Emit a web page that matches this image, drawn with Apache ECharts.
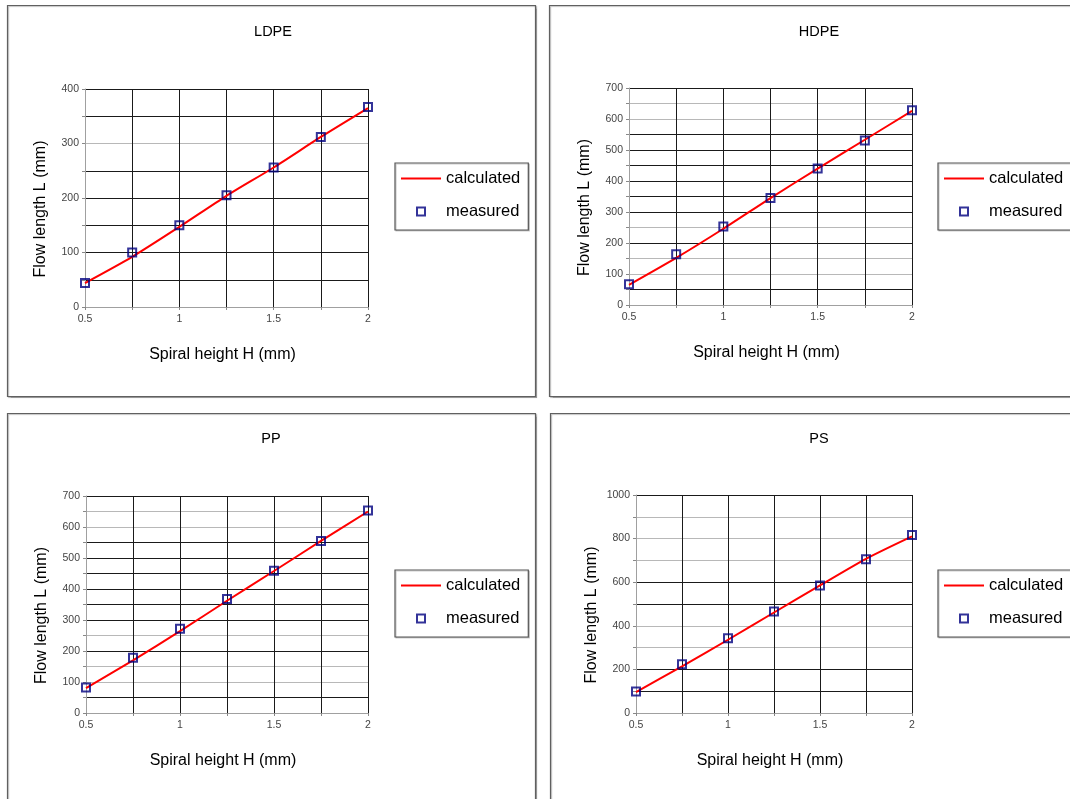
<!DOCTYPE html>
<html>
<head>
<meta charset="utf-8">
<script src="https://cdn.jsdelivr.net/npm/echarts@6/dist/echarts.min.js"></script>
<style>
html,body{margin:0;padding:0;background:#fff;}
#chart{width:1070px;height:799px;}
</style>
</head>
<body>
<div id="chart"></div>
<script>
// ---- data ----
var panelTitles = ['LDPE', 'HDPE', 'PP', 'PS'];
var spiralHeight = [0.5, 0.75, 1, 1.25, 1.5, 1.75, 2];
var ldpeCalculated = [44, 92, 147, 204, 256, 312, 365];
var ldpeMeasured   = [44, 100, 150, 205, 256, 312, 367];
var hdpeCalculated = [65, 152, 246, 345, 440, 533, 626];
var hdpeMeasured   = [67, 164, 253, 345, 440, 531, 628];
var ppCalculated   = [80, 170, 264, 362, 458, 555, 650];
var ppMeasured     = [82, 178, 272, 368, 459, 555, 653];
var psCalculated   = [96, 214, 336, 461, 585, 707, 810];
var psMeasured     = [99, 224, 343, 466, 585, 705, 817];
var yMax = [400, 700, 700, 1000];
var yStep = [50, 50, 50, 100];
var yLabelStep = [100, 100, 100, 200];
var xTickLabels = [0.5, 1, 1.5, 2];
var seriesNames = ['calculated', 'measured'];
var xAxisTitle = 'Spiral height H (mm)';
var yAxisTitle = 'Flow length L (mm)';

var calcSets = [ldpeCalculated, hdpeCalculated, ppCalculated, psCalculated];
var measSets = [ldpeMeasured, hdpeMeasured, ppMeasured, psMeasured];

// ---- layout / style ----
var D = '#1a1a1a', G = '#b8b8b8';
var gridColors = [
  [G, D, D, D, D, D, G, D, D],
  [G, D, G, G, D, G, D, D, D, D, D, D, G, G, D],
  [G, D, G, G, D, G, D, D, D, D, D, D, G, G, D],
  [G, D, D, G, G, D, D, G, G, G, D]
];
var grids = [
  {left: 85, top: 89, width: 283, height: 218},
  {left: 629, top: 88, width: 283, height: 217},
  {left: 86, top: 496, width: 282, height: 217},
  {left: 636, top: 495, width: 276, height: 218}
];
var titlePos = [{x: 268, y: 19}, {x: 814, y: 19}, {x: 266, y: 426}, {x: 814, y: 426}];
var legendPos = [{x: 395, y: 163}, {x: 938, y: 163}, {x: 395, y: 570}, {x: 938, y: 570}];
var frames = [
  {x: 7, y: 5, w: 528, h: 391},
  {x: 549, y: 5, w: 530, h: 391},
  {x: 7, y: 413, w: 528, h: 400},
  {x: 550, y: 413, w: 530, h: 400}
];

function pairs(xs, ys) { return xs.map(function (x, i) { return [x, ys[i]]; }); }

var option = {
  backgroundColor: '#fff',
  animation: false,
  title: [], grid: [], xAxis: [], yAxis: [], series: [], legend: [],
  graphic: []
};

frames.forEach(function (f) {
  option.graphic.push({
    type: 'rect', z: -10, silent: true,
    shape: {x: f.x + 0.5, y: f.y + 0.5, width: f.w, height: f.h},
    style: {fill: '#fff', stroke: '#606060', lineWidth: 1.2,
            shadowColor: 'rgba(0,0,0,0.25)', shadowOffsetX: 1, shadowOffsetY: 1, shadowBlur: 1}
  });
});

for (var i = 0; i < 4; i++) {
  option.title.push({
    text: panelTitles[i], left: titlePos[i].x, top: titlePos[i].y, textAlign: 'center',
    textStyle: {fontFamily: 'Liberation Sans, Arial', fontSize: 14.5, fontWeight: 'normal', color: '#000'}
  });
  option.grid.push({left: grids[i].left, top: grids[i].top, width: grids[i].width, height: grids[i].height, containLabel: false});
  (function (idx) {
    option.xAxis.push({
      type: 'value', gridIndex: idx, min: 0.5, max: 2, interval: 0.25,
      name: xAxisTitle, nameLocation: 'middle', nameGap: 40,
      nameTextStyle: {fontFamily: 'Liberation Sans, Arial', fontSize: 16, color: '#000', padding: [0, 8, 0, 0]},
      axisLine: {show: true, lineStyle: {color: '#a0a0a0', width: 1}},
      axisTick: {show: true, length: 3, inside: false, lineStyle: {color: '#888'}},
      axisLabel: {
        fontFamily: 'Liberation Sans, Arial', fontSize: 10.5, color: '#444', margin: 7,
        formatter: function (v) {
          for (var k = 0; k < xTickLabels.length; k++) if (Math.abs(xTickLabels[k] - v) < 1e-9) return String(xTickLabels[k]);
          return '';
        }
      },
      splitLine: {show: true, lineStyle: {color: '#1a1a1a', width: 1}}
    });
    option.yAxis.push({
      type: 'value', gridIndex: idx, min: 0, max: yMax[idx], interval: yStep[idx],
      name: yAxisTitle, nameLocation: 'middle', nameGap: 36, nameRotate: 90,
      nameTextStyle: {fontFamily: 'Liberation Sans, Arial', fontSize: 16, color: '#000', padding: [0, 22, 0, 0]},
      axisLine: {show: true, lineStyle: {color: '#a0a0a0', width: 1}},
      axisTick: {show: true, length: 3, lineStyle: {color: '#888'}},
      axisLabel: {
        fontFamily: 'Liberation Sans, Arial', fontSize: 10.5, color: '#444', margin: 6,
        formatter: function (v) { return (v % yLabelStep[idx] === 0) ? String(v) : ''; }
      },
      splitLine: {show: true, lineStyle: {color: gridColors[idx], width: 1}}
    });
  })(i);

  option.series.push({
    name: seriesNames[0], type: 'line', xAxisIndex: i, yAxisIndex: i,
    data: pairs(spiralHeight, calcSets[i]), smooth: 0.25, symbol: 'none', showSymbol: false,
    lineStyle: {color: '#ff0000', width: 2}, itemStyle: {color: '#ff0000'}, z: 3
  });
  option.series.push({
    name: seriesNames[1], type: 'scatter', xAxisIndex: i, yAxisIndex: i,
    data: pairs(spiralHeight, measSets[i]), symbol: 'rect', symbolSize: 8,
    itemStyle: {color: 'rgba(255,255,255,0)', borderColor: '#000080', borderWidth: 2}, z: 4
  });

  option.legend.push({
    orient: 'vertical', left: legendPos[i].x, top: legendPos[i].y,
    width: 140,
    backgroundColor: '#fff', borderColor: '#555', borderWidth: 1.2,
    padding: [7, 8, 10, 6], itemGap: 16, itemWidth: 40, itemHeight: 8,
    shadowColor: 'rgba(0,0,0,0.2)', shadowOffsetX: 1, shadowOffsetY: 1,
    selectedMode: false,
    textStyle: {fontFamily: 'Liberation Sans, Arial', fontSize: 16.5, color: '#000', lineHeight: 17},
    data: [
      {name: seriesNames[0], icon: 'path://M0,0H40V2H0Z', itemStyle: {color: '#ff0000'}},
      {name: seriesNames[1], icon: 'path://M0,0H10V10H0Z',
       itemStyle: {color: 'rgba(255,255,255,0)', borderColor: '#000080', borderWidth: 2}}
    ]
  });
}

var chart = echarts.init(document.getElementById('chart'), null, {renderer: 'canvas'});
chart.setOption(option);
</script>
</body>
</html>
